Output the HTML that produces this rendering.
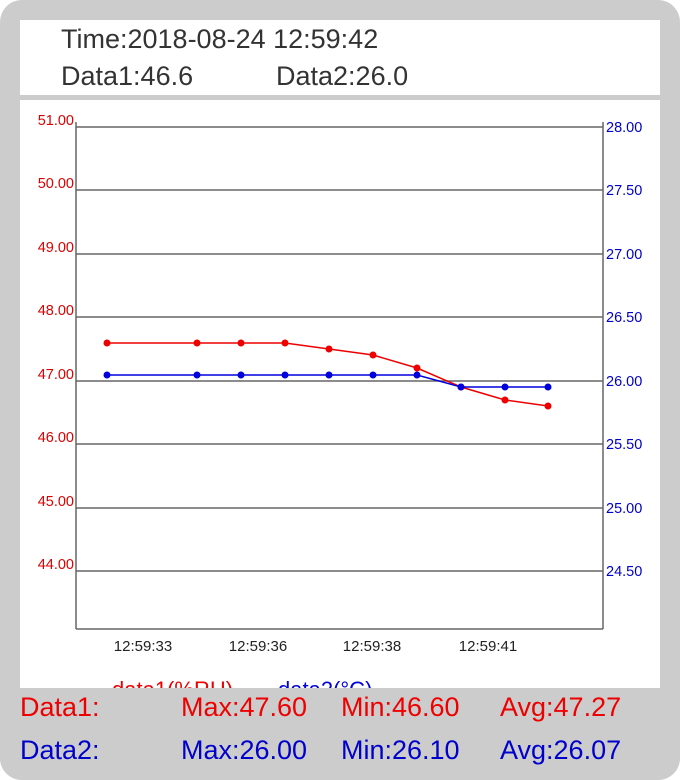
<!DOCTYPE html>
<html><head><style>
html,body{margin:0;padding:0;background:#fff;}
#bg{position:absolute;left:0;top:0;width:680px;height:780px;background:#cccccc;border-radius:22px;overflow:hidden;font-family:"Liberation Sans",sans-serif;}
.t{position:absolute;white-space:nowrap;}
</style></head><body>
<div id="bg">
<div style="position:absolute;left:20px;top:20px;width:640px;height:75px;background:#fff"></div>
<div style="position:absolute;left:20px;top:100px;width:640px;height:588px;background:#fff"></div>
<div class="t" style="left:61px;top:24px;font-size:27px;color:#333">Time:2018-08-24 12:59:42</div>
<div class="t" style="left:61px;top:61px;font-size:27px;color:#333">Data1:46.6</div>
<div class="t" style="left:276px;top:61px;font-size:27px;color:#333">Data2:26.0</div>
<svg style="position:absolute;left:0;top:0" width="680" height="688" font-family="Liberation Sans, sans-serif">
<g stroke="#666" stroke-width="1.5">
<line x1="76" y1="122" x2="76" y2="629"/><line x1="603" y1="122" x2="603" y2="629"/>
<line x1="76" y1="629" x2="603" y2="629"/>
<line x1="76" y1="127" x2="603" y2="127"/><line x1="76" y1="190" x2="603" y2="190"/>
<line x1="76" y1="254" x2="603" y2="254"/><line x1="76" y1="317" x2="603" y2="317"/>
<line x1="76" y1="381" x2="603" y2="381"/><line x1="76" y1="444" x2="603" y2="444"/>
<line x1="76" y1="508" x2="603" y2="508"/><line x1="76" y1="571" x2="603" y2="571"/>
</g>
<g fill="#d00" font-size="14.5" text-anchor="end">
<text x="74" y="125">51.00</text><text x="74" y="188">50.00</text><text x="74" y="252">49.00</text><text x="74" y="315">48.00</text>
<text x="74" y="379">47.00</text><text x="74" y="442">46.00</text><text x="74" y="506">45.00</text><text x="74" y="569">44.00</text>
</g>
<g fill="#00c" font-size="14.5">
<text x="606" y="132">28.00</text><text x="606" y="195">27.50</text><text x="606" y="259">27.00</text><text x="606" y="322">26.50</text>
<text x="606" y="386">26.00</text><text x="606" y="449">25.50</text><text x="606" y="513">25.00</text><text x="606" y="576">24.50</text>
</g>
<g fill="#222" font-size="15" text-anchor="middle">
<text x="143" y="651">12:59:33</text><text x="258" y="651">12:59:36</text><text x="372" y="651">12:59:38</text><text x="488" y="651">12:59:41</text>
</g>
<text x="112" y="697" fill="#e00" font-size="22">data1(%RH)</text>
<text x="278" y="697" fill="#00d" font-size="22">data2(°C)</text>
<polyline fill="none" stroke="#e00" stroke-width="1.5" points="107,343 197,343 241,343 285,343 329,349 373,355 417,368 461,387 505,400 548,406"/>
<g fill="#e00"><circle cx="107" cy="343" r="3.5"/><circle cx="197" cy="343" r="3.5"/><circle cx="241" cy="343" r="3.5"/><circle cx="285" cy="343" r="3.5"/><circle cx="329" cy="349" r="3.5"/><circle cx="373" cy="355" r="3.5"/><circle cx="417" cy="368" r="3.5"/><circle cx="461" cy="387" r="3.5"/><circle cx="505" cy="400" r="3.5"/><circle cx="548" cy="406" r="3.5"/></g>
<polyline fill="none" stroke="#00d" stroke-width="1.5" points="107,375 197,375 241,375 285,375 329,375 373,375 417,375 461,387 505,387 548,387"/>
<g fill="#00d"><circle cx="107" cy="375" r="3.5"/><circle cx="197" cy="375" r="3.5"/><circle cx="241" cy="375" r="3.5"/><circle cx="285" cy="375" r="3.5"/><circle cx="329" cy="375" r="3.5"/><circle cx="373" cy="375" r="3.5"/><circle cx="417" cy="375" r="3.5"/><circle cx="461" cy="387" r="3.5"/><circle cx="505" cy="387" r="3.5"/><circle cx="548" cy="387" r="3.5"/></g>
</svg>
<div style="position:absolute;left:0;top:688px;width:680px;height:92px;background:#cccccc"></div>
<div class="t" style="left:20px;top:692px;font-size:27px;color:#e00">Data1:</div>
<div class="t" style="left:181px;top:692px;font-size:27px;color:#e00">Max:47.60</div>
<div class="t" style="left:341px;top:692px;font-size:27px;color:#e00">Min:46.60</div>
<div class="t" style="left:500px;top:692px;font-size:27px;color:#e00">Avg:47.27</div>
<div class="t" style="left:20px;top:735px;font-size:27px;color:#00c">Data2:</div>
<div class="t" style="left:181px;top:735px;font-size:27px;color:#00c">Max:26.00</div>
<div class="t" style="left:341px;top:735px;font-size:27px;color:#00c">Min:26.10</div>
<div class="t" style="left:500px;top:735px;font-size:27px;color:#00c">Avg:26.07</div>
</div>
</body></html>
